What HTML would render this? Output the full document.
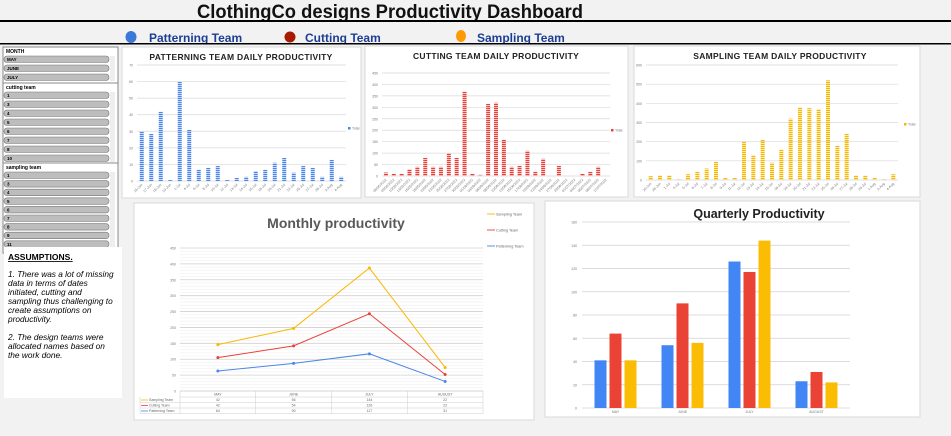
<!DOCTYPE html>
<html><head><meta charset="utf-8">
<style>
html,body{margin:0;padding:0;background:#f2f2f2;}
svg{display:block;font-family:"Liberation Sans",sans-serif;}
</style></head>
<body>
<svg id="dash" width="951" height="436" viewBox="0 0 951 436" xmlns="http://www.w3.org/2000/svg">
<defs>
<pattern id="pb" width="4" height="2" patternUnits="userSpaceOnUse"><rect width="4" height="1.3" fill="#4a86e8"/></pattern>
<pattern id="pr" width="4" height="2" patternUnits="userSpaceOnUse"><rect width="4" height="1.3" fill="#e8413a"/></pattern>
<pattern id="py" width="4" height="2" patternUnits="userSpaceOnUse"><rect width="4" height="1.3" fill="#f7b800"/></pattern>
</defs>
<rect width="951" height="436" fill="#f2f2f2"/>
<text x="390" y="18" text-anchor="middle" font-size="19" font-weight="bold" textLength="386" lengthAdjust="spacingAndGlyphs" fill="#111">ClothingCo designs Productivity Dashboard</text>
<rect x="0" y="20" width="951" height="2" fill="#000"/>
<g>
<ellipse cx="131" cy="37" rx="5.5" ry="6" fill="#3c78d8"/>
<text x="149" y="42" font-size="12" font-weight="bold" fill="#1c3f94">Patterning Team</text>
<ellipse cx="290" cy="37" rx="5.5" ry="5.5" fill="#a61c00"/>
<text x="305" y="42" font-size="12" font-weight="bold" fill="#1c3f94">Cutting Team</text>
<ellipse cx="461" cy="36" rx="5" ry="6" fill="#ff9900"/>
<text x="477" y="42" font-size="12" font-weight="bold" fill="#1c3f94">Sampling Team</text>
</g>
<rect x="0" y="43" width="951" height="1.5" fill="#000"/>
<g id="slicers"></g>
<rect x="4" y="247" width="118" height="151" fill="#fff"/>
<g font-size="8.3" fill="#000">
<text x="8" y="260" font-weight="bold" text-decoration="underline" font-size="8.5">ASSUMPTIONS.</text>
<g font-style="italic">
<text x="8" y="277">1. There was a lot of missing</text>
<text x="8" y="286">data in terms of dates</text>
<text x="8" y="295">initiated, cutting and</text>
<text x="8" y="304">sampling thus challenging to</text>
<text x="8" y="313">create assumptions on</text>
<text x="8" y="322">productivity.</text>
<text x="8" y="340">2. The design teams were</text>
<text x="8" y="349">allocated names based on</text>
<text x="8" y="358">the work done.</text>
</g></g>
<g id="charts"></g>
</svg>
<script>
const NS='http://www.w3.org/2000/svg';
function mk(p,tag,a,txt){const e=document.createElementNS(NS,tag);for(const k in a)e.setAttribute(k,a[k]);if(txt!==undefined)e.textContent=txt;p.appendChild(e);return e;}
const root=document.getElementById('charts');
const sl=document.getElementById('slicers');

/* ---- data ---- */
const patDates=['16-Jun','17-Jun','18-Jun','19-Jun','1-Jul','4-Jul','6-Jul','8-Jul','10-Jul','12-Jul','13-Jul','14-Jul','15-Jul','18-Jul','20-Jul','21-Jul','22-Jul','25-Jul','27-Jul','28-Jul','3-Aug','4-Aug'];
const patVals=[30,28.5,42,0.5,60,31,7,8,9,0.5,2,2.5,6,7,11,14,5,9,8,2.5,13,2.5];
const cutDates=['06/05/2022','09/05/2022','10/05/2022','13/05/2022','16/05/2022','18/05/2022','20/05/2022','23/05/2022','25/05/2022','27/05/2022','30/05/2022','01/06/2022','03/06/2022','06/06/2022','08/06/2022','10/06/2022','13/06/2022','15/06/2022','17/06/2022','20/06/2022','22/06/2022','24/06/2022','27/06/2022','29/06/2022','01/07/2022','04/07/2022','06/07/2022','08/07/2022','11/07/2022'];
const cutVals=[15,10,10,30,40,80,40,40,100,80,370,10,5,315,320,160,40,45,110,20,75,0,45,0,0,10,20,40,0];
const samDates=['20-Jun','28-Jun','1-Jul','4-Jul','5-Jul','6-Jul','7-Jul','8-Jul','9-Jul','11-Jul','12-Jul','13-Jul','14-Jul','15-Jul','18-Jul','19-Jul','20-Jul','21-Jul','22-Jul','25-Jul','26-Jul','27-Jul','28-Jul','29-Jul','1-Aug','2-Aug','4-Aug'];
const samVals=[20,25,25,5,30,45,60,95,10,10,200,130,210,90,160,320,380,375,370,520,180,240,25,25,10,5,30];
const months=['MAY','JUNE','JULY','AUGUST'];
const monSampling=[146,197,387,74];
const monCutting=[105,142,243,52];
const monPatterning=[63,87,117,30];
const tblSampling=['42','56','144','22'];
const tblCutting=['42','54','126','22'];
const tblPatterning=['64','90','117','31'];
const qPat=[41,54,126,23];
const qCut=[64,90,117,31];
const qSam=[41,56,144,22];

/* ---- slicers ---- */
function slicer(y0,h,title,items,step){
  const g=mk(sl,'g',{});
  
  
  const b=mk(g,'rect',{x:3,y:y0,width:115,height:h,fill:'#fff',stroke:'#888','stroke-width':1});
  
  
  const t=mk(g,'text',{x:6,y:y0+6,'font-size':5,'font-weight':'bold',fill:'#000'},title);
  
  
  mk(g,'rect',{x:110,y:y0+9,width:5,height:h-11,fill:'#eee'});
  items.forEach((it,i)=>{
    const yy=y0+9+i*step;
    if(yy+6>y0+h)return;
    const r=mk(g,'rect',{x:4,y:yy,width:105,height:6.5,rx:3,fill:'#bdbdbd',stroke:'#777','stroke-width':0.6});
    
    
    const tx=mk(g,'text',{x:7,y:yy+5,'font-size':4.5,'font-weight':'bold',fill:'#000'},it);
    
    
  });
}
slicer(47,36,'MONTH',['MAY','JUNE','JULY'],9);
slicer(83,81,'cutting team',['1','3','4','5','6','7','8','10'],9);
slicer(163,90,'sampling team',['1','3','4','5','6','7','8','9','11'],8.6);

/* ---- daily bar charts ---- */
function daily(cfg){
  const g=mk(root,'g',{});
  
  
  const bg=mk(g,'rect',{x:cfg.bx,y:cfg.by,width:cfg.bw,height:cfg.bh,fill:'#fff',stroke:'#d9d9d9'});
  
  
  const t=mk(g,'text',{x:cfg.tx,y:cfg.by+13,'font-size':8.5,'font-weight':'bold','text-anchor':'middle',fill:'#222','letter-spacing':0.3},cfg.title);
  
  
  const ys=v=>cfg.y0-(v/cfg.max)*(cfg.y0-cfg.ytop);
  for(let v=0;v<=cfg.max;v+=cfg.step){
    const l=mk(g,'line',{x1:cfg.x0,x2:cfg.x1,y1:ys(v),y2:ys(v),stroke:'#d9d9d9','stroke-width':0.7});
    
    
    const tl=mk(g,'text',{x:cfg.x0-4,y:ys(v)+1.5,'font-size':3.5,'text-anchor':'end',fill:'#777'},String(v));
    
    
  }
  const n=cfg.vals.length, bw=(cfg.x1-cfg.x0)/n;
  cfg.vals.forEach((v,i)=>{
    const cx=cfg.x0+bw*(i+0.5);
    const r=mk(g,'rect',{x:cx-2,y:ys(v),width:4,height:cfg.y0-ys(v),fill:cfg.fill});
    
    
    const lb=mk(g,'text',{x:cx+1,y:cfg.y0+4,'font-size':3.5,'text-anchor':'end',fill:'#777',transform:`rotate(-45 ${cx+1} ${cfg.y0+4})`},cfg.labels[i]);
    
    
  });
  const lg=mk(g,'rect',{x:cfg.lx,y:cfg.ly-2,width:2.5,height:2.5,fill:cfg.color});
  
  
  const lt=mk(g,'text',{x:cfg.lx+4,y:cfg.ly+0.5,'font-size':3.5,fill:'#777'},'Total');
  
  
}
daily({name:'patterning-daily-chart',bx:122,by:47,bw:239,bh:151,tx:241,title:'PATTERNING TEAM DAILY PRODUCTIVITY',x0:137,x1:346,y0:181,ytop:65,max:70,step:10,vals:patVals,labels:patDates,fill:'url(#pb)',color:'#4a86e8',lx:348,ly:129});
daily({name:'cutting-daily-chart',bx:365,by:46,bw:263,bh:151,tx:496,title:'CUTTING TEAM DAILY PRODUCTIVITY',x0:382,x1:610,y0:176,ytop:73,max:450,step:50,vals:cutVals,labels:cutDates,fill:'url(#pr)',color:'#e8413a',lx:611,ly:131});
daily({name:'sampling-daily-chart',bx:634,by:46,bw:286,bh:151,tx:780,title:'SAMPLING TEAM DAILY PRODUCTIVITY',x0:646,x1:898,y0:180,ytop:65,max:600,step:100,vals:samVals,labels:samDates,fill:'url(#py)',color:'#f7b800',lx:904,ly:125});

/* ---- monthly line chart ---- */
(function(){
  const g=mk(root,'g',{});
  
  
  const bg=mk(g,'rect',{x:134,y:203,width:400,height:217,fill:'#fff',stroke:'#d9d9d9'});
  
  
  const t=mk(g,'text',{x:336,y:228,'font-size':14,'font-weight':'bold','text-anchor':'middle',fill:'#595959'},'Monthly productivity');
  
  
  const x0=180,x1=483,y0=391,yt=248,max=450;
  const ys=v=>y0-(v/max)*(y0-yt);
  for(let v=0;v<=max;v+=10){
    const major=v%50===0;
    const l=mk(g,'line',{x1:x0,x2:x1,y1:ys(v),y2:ys(v),stroke:major?'#d0d0d0':'#ececec','stroke-width':major?0.8:0.5});
    
    
    if(major){
      const tl=mk(g,'text',{x:176,y:ys(v)+1.5,'font-size':3.5,'text-anchor':'end',fill:'#777'},String(v));
      
      
    }
  }
  const cw=(x1-x0)/months.length;
  const cx=i=>x0+cw*(i+0.5);
  const series=[['sampling',monSampling,'#f7b800'],['cutting',monCutting,'#e8413a'],['patterning',monPatterning,'#4a86e8']];
  series.forEach(([nm,vals,col])=>{
    const pl=mk(g,'polyline',{points:vals.map((v,i)=>cx(i)+','+ys(v)).join(' '),fill:'none',stroke:col,'stroke-width':1});
    
    
    vals.forEach((v,i)=>{
      const c=mk(g,'circle',{cx:cx(i),cy:ys(v),r:1.5,fill:col});
      
      
    });
  });
  // table
  const tg=mk(g,'g',{'font-size':3.5,fill:'#666'});
  
  
  const rows=[['Sampling Team',tblSampling,'#f7b800'],['Cutting Team',tblCutting,'#e8413a'],['Patterning Team',tblPatterning,'#4a86e8']];
  mk(tg,'line',{x1:x0,x2:x1,y1:391,y2:391,stroke:'#ccc','stroke-width':0.5});
  for(let r=0;r<=3;r++) mk(tg,'line',{x1:r?140:x0,x2:x1,y1:397+r*5.5,y2:397+r*5.5,stroke:'#ccc','stroke-width':0.5});
  for(let i=0;i<=4;i++) mk(tg,'line',{x1:x0+cw*i,x2:x0+cw*i,y1:391,y2:413.5,stroke:'#ccc','stroke-width':0.5});
  mk(tg,'line',{x1:140,x2:140,y1:397,y2:413.5,stroke:'#ccc','stroke-width':0.5});
  months.forEach((m,i)=>{
    const e=mk(tg,'text',{x:cx(i),y:395.5,'text-anchor':'middle'},m);
    
    
  });
  rows.forEach(([nm,vals,col],r)=>{
    const yy=401+r*5.5;
    mk(tg,'line',{x1:141,x2:148,y1:yy-1,y2:yy-1,stroke:col,'stroke-width':0.8});
    const e=mk(tg,'text',{x:149,y:yy},nm);
    
    
    vals.forEach((v,i)=>{
      const c=mk(tg,'text',{x:cx(i),y:yy,'text-anchor':'middle'},v);
      
      
    });
  });
  // legend
  [['Sampling Team','#f7b800',214],['Cutting Team','#e8413a',230],['Patterning Team','#4a86e8',246]].forEach(([nm,col,yy])=>{
    const l=mk(g,'line',{x1:487,x2:495,y1:yy,y2:yy,stroke:col,'stroke-width':0.9});
    
    
    const e=mk(g,'text',{x:496,y:yy+1.3,'font-size':3.8,fill:'#666'},nm);
    
    
  });
})();

/* ---- quarterly bar chart ---- */
(function(){
  const g=mk(root,'g',{});
  
  
  const bg=mk(g,'rect',{x:545,y:201,width:375,height:216,fill:'#fff',stroke:'#d9d9d9'});
  
  
  const t=mk(g,'text',{x:759,y:218,'font-size':12.5,'font-weight':'bold','text-anchor':'middle',fill:'#222'},'Quarterly Productivity');
  
  
  const x0=582,x1=850,y0=408,yt=222,max=160;
  const ys=v=>y0-(v/max)*(y0-yt);
  for(let v=0;v<=max;v+=20){
    const l=mk(g,'line',{x1:x0,x2:x1,y1:ys(v),y2:ys(v),stroke:'#d0d0d0','stroke-width':0.8});
    
    
    const tl=mk(g,'text',{x:x0-5,y:ys(v)+1.5,'font-size':3.5,'text-anchor':'end',fill:'#777'},String(v));
    
    
  }
  const cw=(x1-x0)/months.length;
  const ser=[['patterning',qPat,'#4285f4'],['cutting',qCut,'#ea4335'],['sampling',qSam,'#fbbc04']];
  months.forEach((m,i)=>{
    const c=x0+cw*(i+0.5);
    ser.forEach(([nm,vals,col],s)=>{
      const x=c+(s-1)*15-6;
      const r=mk(g,'rect',{x:x,y:ys(vals[i]),width:12,height:y0-ys(vals[i]),fill:col});
      
      
    });
    const e=mk(g,'text',{x:c,y:y0+5,'font-size':3.5,'text-anchor':'middle',fill:'#777'},m);
    
    
  });
})();
</script>
</body></html>
